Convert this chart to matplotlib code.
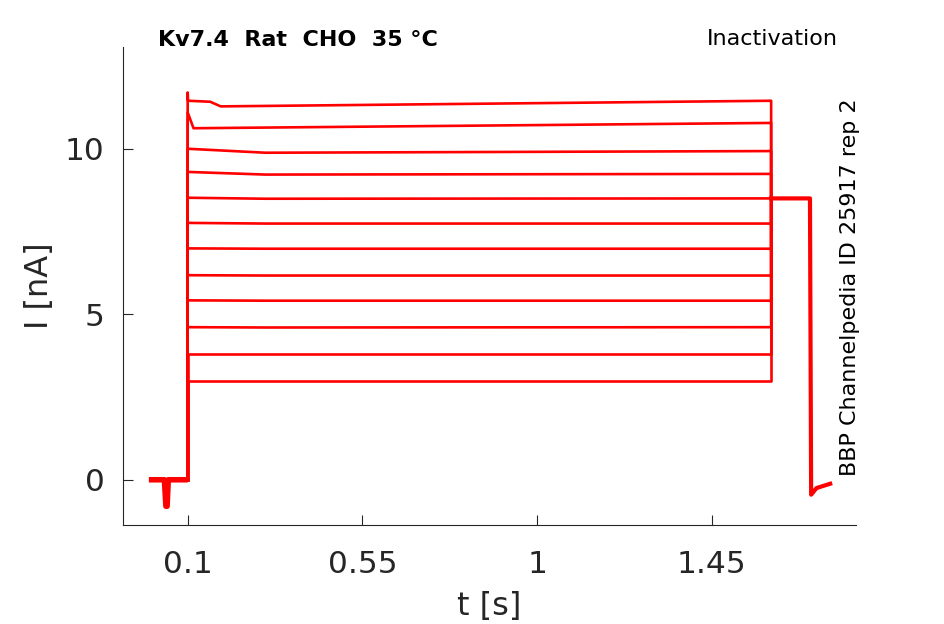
import numpy as np
import matplotlib.pyplot as plt

plt.rcParams['font.family'] = ['DejaVu Sans']

# holding level before the test step (all sweeps overlap here)
t_pre = [0.0, 0.040, 0.044, 0.047, 0.050, 0.100]
i_pre = [0.0, 0.0, -0.80, -0.80, 0.0, 0.0]

# test step levels, start and end of each sweep [nA]
t_step_start = 0.100
t_step_end = 1.603
level_start = [11.45, 11.10, 10.00, 9.30, 8.52, 7.76, 6.99, 6.18, 5.42, 4.61, 3.80, 2.99]
level_mid = [11.28, 10.62, 9.88, 9.22, 8.49, 7.74, 6.98, 6.17, 5.41, 4.60, 3.80, 2.99]
level_end = [11.45, 10.78, 9.93, 9.24, 8.50, 7.74, 6.98, 6.17, 5.41, 4.61, 3.80, 2.99]
t_mid = [0.185, 0.115, 0.300, 0.300, 0.300, 0.300, 0.300, 0.300, 0.300, 0.300, 0.300, 0.300]

# tail after the step
t_tail = [1.603, 1.703, 1.706, 1.720, 1.755]
i_tail = [8.50, 8.50, -0.45, -0.25, -0.12]

fig = plt.figure(figsize=(9.45, 6.24), dpi=100)
ax = fig.add_axes([0.130, 0.159, 0.776, 0.766])

red = '#ff0000'
ax.plot(t_pre, i_pre, color=red, lw=4.0, solid_capstyle='butt')
for k in range(len(level_start)):
    t = [t_pre[-1], t_step_start, t_mid[k], t_step_end, t_step_end]
    y = [i_pre[-1], level_start[k], level_mid[k], level_end[k], i_tail[0]]
    if k == 0:
        t = [t_pre[-1], t_step_start, 0.101, 0.158, t_mid[k], t_step_end, t_step_end]
        y = [i_pre[-1], 11.70, level_start[k], 11.42, level_mid[k], level_end[k], i_tail[0]]
    ax.plot(t, y, color=red, lw=1.9)
ax.plot(t_tail, i_tail, color=red, lw=3.0)

ax.set_xlim(-0.067, 1.822)
ax.set_ylim(-1.36, 13.08)
ax.set_xticks([0.1, 0.55, 1, 1.45])
ax.set_xticklabels(['0.1', '0.55', '1', '1.45'])
ax.set_yticks([0, 5, 10])
for s in ['top', 'right']:
    ax.spines[s].set_visible(False)
for s in ['left', 'bottom']:
    ax.spines[s].set_color('#262626')
ax.tick_params(direction='in', length=7, colors='#262626', labelsize=22.5)
ax.tick_params(axis='x', pad=18)
ax.tick_params(axis='y', pad=13)
ax.set_xlabel('t [s]', fontsize=23, color='#262626', labelpad=9)
ax.set_ylabel('I [nA]', fontsize=23, color='#262626', labelpad=7)

fig.text(158 / 945, 1 - 40 / 624, 'Kv7.4  Rat  CHO  35 °C', fontsize=16,
         fontweight='bold', ha='left', va='center')
fig.text(838 / 945, 1 - 39 / 624, 'Inactivation', fontsize=16,
         ha='right', va='center')
fig.text(850 / 945, 1 - 287 / 624, 'BBP Channelpedia ID 25917 rep 2',
         fontsize=16, rotation=90, ha='center', va='center')

fig.savefig('out.png', dpi=100)
